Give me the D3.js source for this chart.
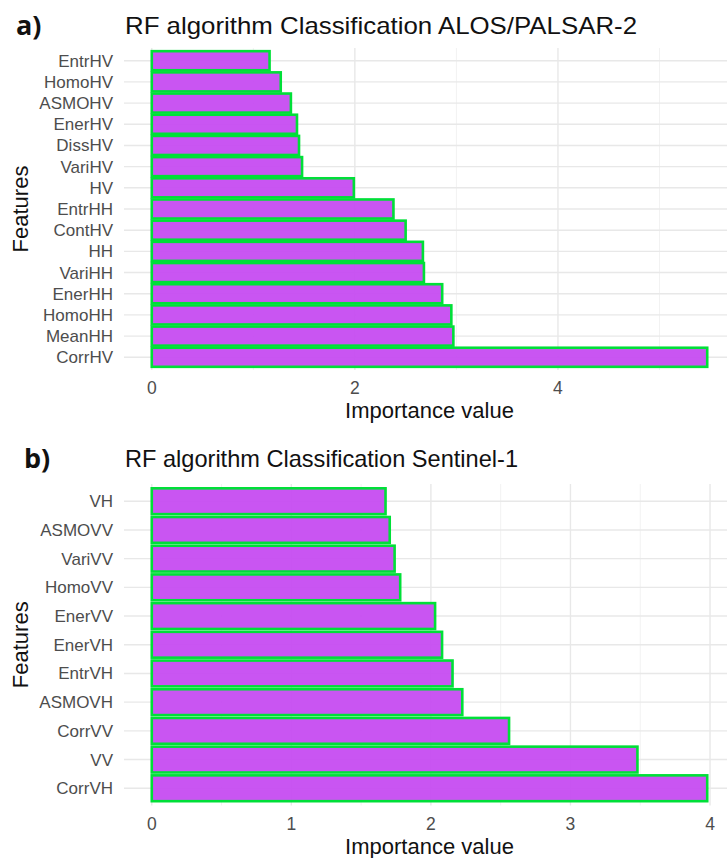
<!DOCTYPE html>
<html>
<head>
<meta charset="utf-8">
<script src="https://cdn.jsdelivr.net/npm/d3@7"></script>
<style>
  body { margin: 0; background: #fff; }
  svg { display: block; font-family: "Liberation Sans", Arial, sans-serif; }
</style>
</head>
<body>
<svg id="chart" width="727" height="858"></svg>
<script>
// panel a) ALOS/PALSAR-2, top to bottom
var featuresA = ["EntrHV", "HomoHV", "ASMOHV", "EnerHV", "DissHV", "VariHV", "HV",
  "EntrHH", "ContHV", "HH", "VariHH", "EnerHH", "HomoHH", "MeanHH", "CorrHV"];
var valuesA = [1.16, 1.27, 1.37, 1.43, 1.45, 1.48, 1.99,
  2.38, 2.50, 2.67, 2.68, 2.86, 2.95, 2.97, 5.47];
var ticksA = [0, 2, 4];
var minorA = [1, 3, 5];

// panel b) Sentinel-1, top to bottom
var featuresB = ["VH", "ASMOVV", "VariVV", "HomoVV", "EnerVV", "EnerVH", "EntrVH",
  "ASMOVH", "CorrVV", "VV", "CorrVH"];
var valuesB = [1.675, 1.705, 1.74, 1.78, 2.03, 2.08, 2.155, 2.225, 2.56, 3.48, 3.98];
var ticksB = [0, 1, 2, 3, 4];
var minorB = [0.5, 1.5, 2.5, 3.5];

var svg = d3.select("#chart");

function drawPanel(p) {
  var g = svg.append("g");
  var left = 124, right = 735;
  var max = d3.max(p.values);
  var x = d3.scaleLinear()
    .domain([-0.05 * max, max * 1.05])
    .range([left, right]);
  var y = d3.scaleBand()
    .domain(p.features)
    .range([p.top, p.bottom])
    .paddingInner(0.1)
    .paddingOuter(0.15);

  // grid
  g.selectAll(".minor").data(p.minor).enter().append("line")
    .attr("x1", function (d) { return x(d); }).attr("x2", function (d) { return x(d); })
    .attr("y1", p.top).attr("y2", p.bottom)
    .attr("stroke", "#f2f2f2").attr("stroke-width", 1);
  g.selectAll(".major").data(p.ticks).enter().append("line")
    .attr("x1", function (d) { return x(d); }).attr("x2", function (d) { return x(d); })
    .attr("y1", p.top).attr("y2", p.bottom)
    .attr("stroke", "#e8e8e8").attr("stroke-width", 1.4);
  g.selectAll(".hgrid").data(p.features).enter().append("line")
    .attr("x1", left).attr("x2", right)
    .attr("y1", function (d) { return y(d) + y.bandwidth() / 2; })
    .attr("y2", function (d) { return y(d) + y.bandwidth() / 2; })
    .attr("stroke", "#e8e8e8").attr("stroke-width", 1.4);

  // bars
  g.selectAll(".bar").data(p.values).enter().append("rect")
    .attr("x", x(0))
    .attr("y", function (d, i) { return y(p.features[i]); })
    .attr("width", function (d) { return x(d) - x(0); })
    .attr("height", y.bandwidth())
    .attr("fill", "#c64cf1").attr("fill-opacity", 0.95)
    .attr("stroke", "#00df38").attr("stroke-width", 2.6);

  // y labels
  g.selectAll(".ylab").data(p.features).enter().append("text")
    .attr("x", 113)
    .attr("y", function (d) { return y(d) + y.bandwidth() / 2; })
    .attr("dy", "0.35em")
    .attr("text-anchor", "end")
    .attr("font-size", 17).attr("fill", "#4d4d4d")
    .text(function (d) { return d; });

  // x labels
  g.selectAll(".xlab").data(p.ticks).enter().append("text")
    .attr("x", function (d) { return x(d); })
    .attr("y", p.bottom + 24)
    .attr("text-anchor", "middle")
    .attr("font-size", 17.5).attr("fill", "#4d4d4d")
    .text(function (d) { return d; });

  g.append("text")
    .attr("x", (left + right) / 2).attr("y", p.bottom + 48)
    .attr("text-anchor", "middle").attr("font-size", 22).attr("fill", "#111")
    .text("Importance value");

  g.append("text")
    .attr("transform", "translate(28," + ((p.top + p.bottom) / 2) + ") rotate(-90)")
    .attr("text-anchor", "middle").attr("font-size", 22).attr("fill", "#111")
    .text("Features");

  g.append("text")
    .attr("x", 125).attr("y", p.titleY)
    .attr("font-size", 24).attr("fill", "#111")
    .attr("textLength", p.titleW).attr("lengthAdjust", "spacingAndGlyphs")
    .text(p.title);

  g.append("text")
    .attr("x", p.tagX).attr("y", p.titleY + 1)
    .attr("font-family", "'Open Sans', sans-serif")
    .attr("font-size", 27).attr("font-weight", "bold").attr("fill", "#111")
    .text(p.tag);
}

drawPanel({
  features: featuresA, values: valuesA, ticks: ticksA, minor: minorA,
  top: 48, bottom: 370, titleY: 34, titleW: 512, tagX: 16,
  title: "RF algorithm Classification ALOS/PALSAR-2", tag: "a)"
});
drawPanel({
  features: featuresB, values: valuesB, ticks: ticksB, minor: minorB,
  top: 484, bottom: 805.5, titleY: 467, titleW: 393, tagX: 24,
  title: "RF algorithm Classification Sentinel-1", tag: "b)"
});
</script>
</body>
</html>
